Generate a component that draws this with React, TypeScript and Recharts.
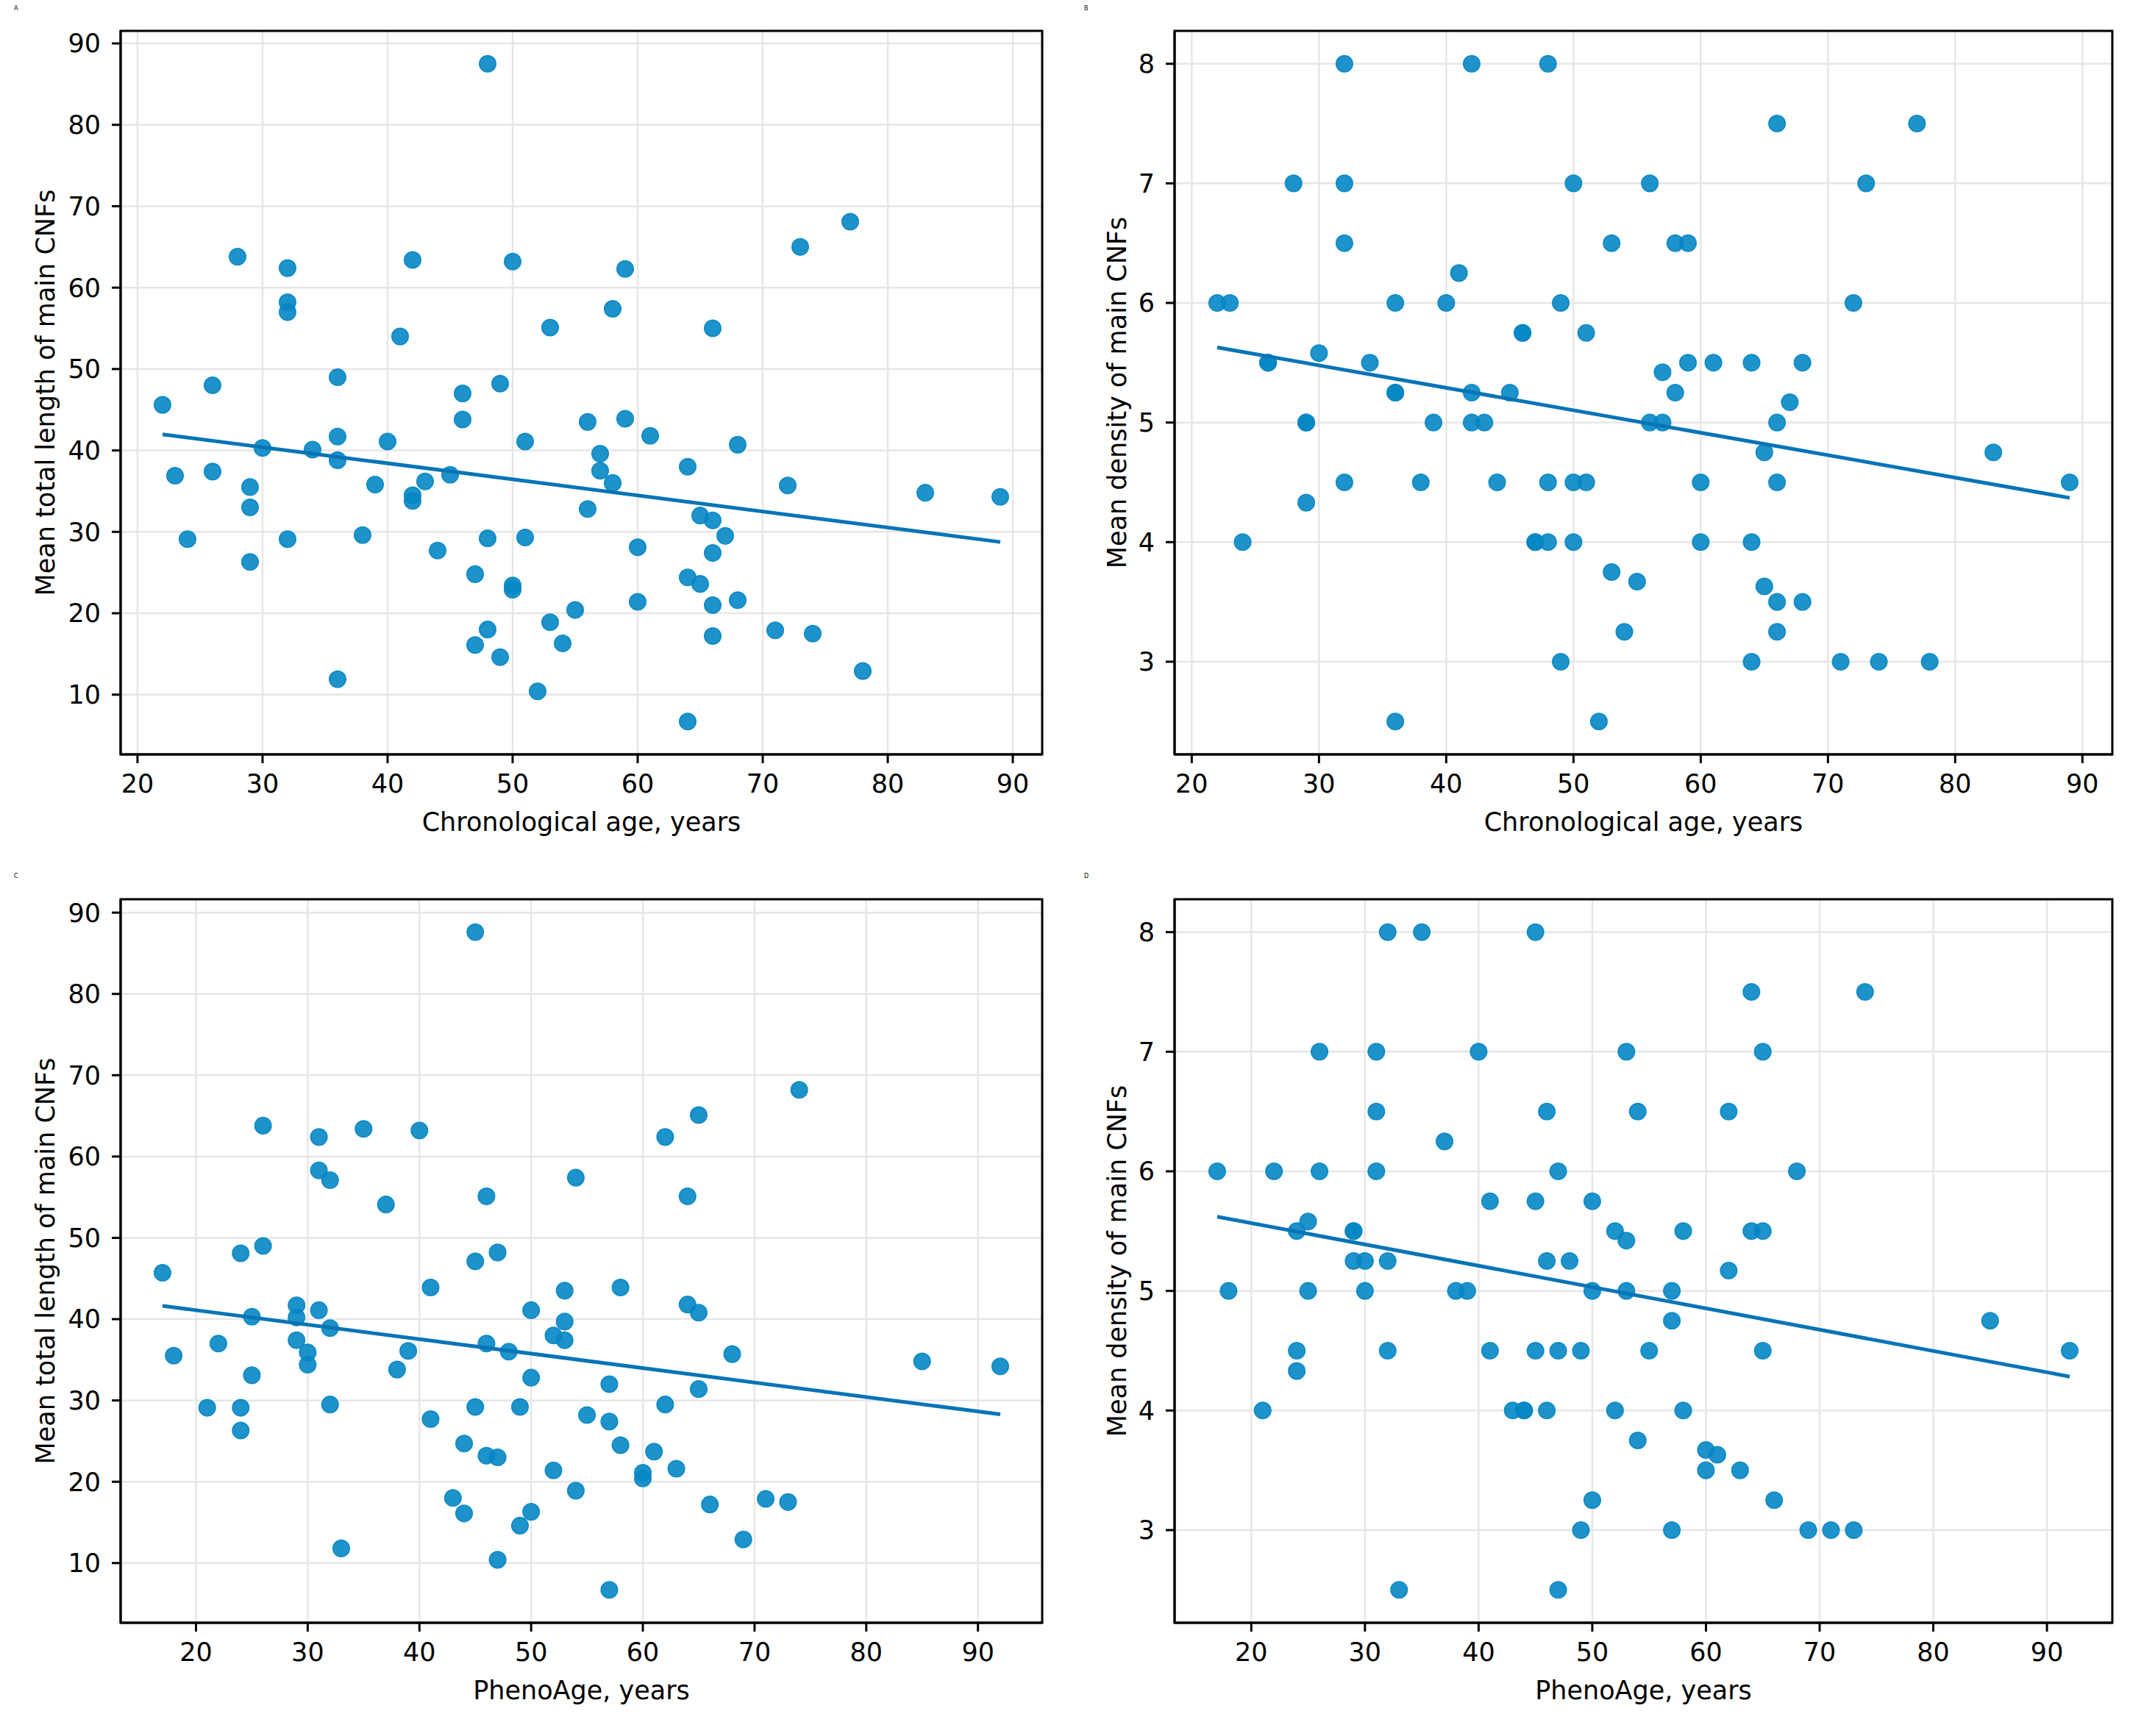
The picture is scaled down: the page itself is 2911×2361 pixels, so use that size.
import React from 'react';
import { ScatterChart, Scatter, XAxis, YAxis, CartesianGrid, Label, ReferenceArea } from 'recharts';

type Pt = [number, number];

// Panel A: chronological age vs mean total length of main CNFs
const chronoLength: Pt[] = [
  [22, 45.6], [23, 36.9], [24, 29.1], [26, 48.0], [26, 37.4], [28, 63.8], [29, 35.5], [29, 33.0], [29, 26.3], [30, 40.3],
  [32, 62.4], [32, 58.2], [32, 57.0], [32, 29.1], [34, 40.1], [36, 49.0], [36, 41.7], [36, 38.8], [36, 11.9], [38, 29.6],
  [39, 35.8], [40, 41.1], [41, 54.0], [42, 63.4], [42, 34.5], [42, 33.8], [43, 36.2], [44, 27.7], [45, 37.0], [46, 47.0],
  [46, 43.8], [47, 24.8], [47, 16.1], [48, 87.5], [48, 29.2], [48, 18.0], [49, 48.2], [49, 14.6], [50, 63.2], [50, 23.4],
  [50, 22.9], [51, 41.1], [51, 29.3], [52, 10.4], [53, 55.1], [53, 18.9], [54, 16.3], [55, 20.4], [56, 43.5], [56, 32.8],
  [57, 39.6], [57, 37.5], [58, 57.4], [58, 36.0], [59, 62.3], [59, 43.9], [60, 28.1], [60, 21.4], [61, 41.8], [64, 38.0],
  [64, 24.4], [64, 6.7], [65, 32.0], [65, 23.6], [66, 55.0], [66, 31.4], [66, 27.4], [66, 21.0], [66, 17.2], [67, 29.5],
  [68, 40.7], [68, 21.6], [71, 17.9], [72, 35.7], [73, 65.0], [74, 17.5], [77, 68.1], [78, 12.9], [83, 34.8], [89, 34.3],
];

// Panel B: chronological age vs mean density of main CNFs
const chronoDensity: Pt[] = [
  [22, 6.0], [23, 6.0], [24, 4.0], [26, 5.5], [26, 5.5], [28, 7.0], [29, 5.0], [29, 5.0], [29, 4.33], [30, 5.58],
  [32, 8.0], [32, 7.0], [32, 6.5], [32, 4.5], [34, 5.5], [36, 6.0], [36, 5.25], [36, 5.25], [36, 2.5], [38, 4.5],
  [39, 5.0], [40, 6.0], [41, 6.25], [42, 8.0], [42, 5.25], [42, 5.0], [43, 5.0], [44, 4.5], [45, 5.25], [46, 5.75],
  [46, 5.75], [47, 4.0], [47, 4.0], [48, 8.0], [48, 4.5], [48, 4.0], [49, 6.0], [49, 3.0], [50, 7.0], [50, 4.5],
  [50, 4.0], [51, 5.75], [51, 4.5], [52, 2.5], [53, 6.5], [53, 3.75], [54, 3.25], [55, 3.67], [56, 7.0], [56, 5.0],
  [57, 5.42], [57, 5.0], [58, 6.5], [58, 5.25], [59, 6.5], [59, 5.5], [60, 4.5], [60, 4.0], [61, 5.5], [64, 5.5],
  [64, 4.0], [64, 3.0], [65, 4.75], [65, 3.63], [66, 7.5], [66, 5.0], [66, 4.5], [66, 3.5], [66, 3.25], [67, 5.17],
  [68, 5.5], [68, 3.5], [71, 3.0], [72, 6.0], [73, 7.0], [74, 3.0], [77, 7.5], [78, 3.0], [83, 4.75], [89, 4.5],
];

// Panel C: PhenoAge vs mean total length of main CNFs
const phenoLength: Pt[] = [
  [17, 45.7], [18, 35.5], [21, 29.1], [22, 37.0], [24, 48.1], [24, 29.1], [24, 26.3], [25, 40.3], [25, 33.1], [26, 63.8],
  [26, 49.0], [29, 41.7], [29, 40.2], [29, 37.4], [30, 35.9], [30, 34.4], [31, 62.4], [31, 58.3], [31, 41.1], [32, 57.1],
  [32, 38.9], [32, 29.5], [33, 11.8], [35, 63.4], [37, 54.1], [38, 33.8], [39, 36.1], [40, 63.2], [41, 43.9], [41, 27.7],
  [43, 18.0], [44, 24.7], [44, 16.1], [45, 87.6], [45, 47.1], [45, 29.2], [46, 55.1], [46, 37.0], [46, 23.2], [47, 48.2],
  [47, 23.0], [47, 10.4], [48, 36.0], [49, 29.2], [49, 14.6], [50, 41.1], [50, 32.8], [50, 16.3], [52, 38.0], [52, 21.4],
  [53, 43.5], [53, 39.7], [53, 37.4], [54, 57.4], [54, 18.9], [55, 28.2], [57, 32.0], [57, 27.4], [57, 6.7], [58, 43.9],
  [58, 24.5], [60, 21.1], [60, 20.4], [61, 23.7], [62, 62.4], [62, 29.5], [63, 21.6], [64, 55.1], [64, 41.8], [65, 65.1],
  [65, 40.8], [65, 31.4], [66, 17.2], [68, 35.7], [69, 12.9], [71, 17.9], [73, 17.5], [74, 68.2], [85, 34.8], [92, 34.2],
];

// Panel D: PhenoAge vs mean density of main CNFs
const phenoDensity: Pt[] = [
  [17, 6.0], [18, 5.0], [21, 4.0], [22, 6.0], [24, 5.5], [24, 4.5], [24, 4.33], [25, 5.58], [25, 5.0], [26, 7.0],
  [26, 6.0], [29, 5.5], [29, 5.5], [29, 5.25], [30, 5.25], [30, 5.0], [31, 7.0], [31, 6.5], [31, 6.0], [32, 8.0],
  [32, 5.25], [32, 4.5], [33, 2.5], [35, 8.0], [37, 6.25], [38, 5.0], [39, 5.0], [40, 7.0], [41, 5.75], [41, 4.5],
  [43, 4.0], [44, 4.0], [44, 4.0], [45, 8.0], [45, 5.75], [45, 4.5], [46, 6.5], [46, 5.25], [46, 4.0], [47, 6.0],
  [47, 4.5], [47, 2.5], [48, 5.25], [49, 4.5], [49, 3.0], [50, 5.75], [50, 5.0], [50, 3.25], [52, 5.5], [52, 4.0],
  [53, 7.0], [53, 5.42], [53, 5.0], [54, 6.5], [54, 3.75], [55, 4.5], [57, 5.0], [57, 4.75], [57, 3.0], [58, 5.5],
  [58, 4.0], [60, 3.67], [60, 3.5], [61, 3.63], [62, 6.5], [62, 5.17], [63, 3.5], [64, 7.5], [64, 5.5], [65, 7.0],
  [65, 5.5], [65, 4.5], [66, 3.25], [68, 6.0], [69, 3.0], [71, 3.0], [73, 3.0], [74, 7.5], [85, 4.75], [92, 4.5],
];

const ageTicks = [20, 30, 40, 50, 60, 70, 80, 90];
const lengthTicks = [10, 20, 30, 40, 50, 60, 70, 80, 90];
const densityTicks = [3, 4, 5, 6, 7, 8];

const panelLetters = ['A', 'B', 'C', 'D'];
const xLabels = ['Chronological age, years', 'PhenoAge, years'];
const yLabels = ['Mean total length of main CNFs', 'Mean density of main CNFs'];

const FONT = '"DejaVu Sans", Verdana, sans-serif';
const POINT = '#0586c4';
const LINE = '#0774b6';
const GRID = '#e6e6e6';
const FS = 35;

function paddedDomain(vals: number[]): [number, number] {
  const lo = Math.min(...vals);
  const hi = Math.max(...vals);
  const pad = (hi - lo) * 0.05;
  return [lo - pad, hi + pad];
}

function fitLine(pts: Pt[]) {
  const n = pts.length;
  const mx = pts.reduce((s, p) => s + p[0], 0) / n;
  const my = pts.reduce((s, p) => s + p[1], 0) / n;
  let sxx = 0;
  let sxy = 0;
  pts.forEach(([x, y]) => {
    sxx += (x - mx) * (x - mx);
    sxy += (x - mx) * (y - my);
  });
  const slope = sxy / sxx;
  const icpt = my - slope * mx;
  const xs = pts.map((p) => p[0]);
  const x0 = Math.min(...xs);
  const x1 = Math.max(...xs);
  return [
    { x: x0, y: icpt + slope * x0 },
    { x: x1, y: icpt + slope * x1 },
  ];
}

const Dot = (props: any) => {
  const { cx, cy } = props;
  if (cx == null || cy == null) return <g />;
  return (
    <circle cx={cx} cy={cy} r={11.3} fill={POINT} fillOpacity={0.9} stroke={POINT} strokeOpacity={0.9} strokeWidth={1.5} />
  );
};

const NoShape = () => <g />;

type PanelProps = {
  left: number;
  top: number;
  width: number;
  height: number;
  pts: Pt[];
  yTicks: number[];
  xLabel: string;
  yLabel: string;
  yAxisWidth: number;
  marginRight: number;
  marginTop: number;
  yLabelX: number;
};

function Panel(p: PanelProps) {
  const data = p.pts.map(([x, y]) => ({ x, y }));
  const xDomain = paddedDomain(p.pts.map((d) => d[0]));
  const yDomain = paddedDomain(p.pts.map((d) => d[1]));
  const fit = fitLine(p.pts);
  const axisLine = { stroke: '#000', strokeWidth: 3 };
  const tickLine = { stroke: '#000', strokeWidth: 3 };
  const tick = { fontSize: FS, fill: '#000', fontFamily: FONT };
  return (
    <div style={{ position: 'absolute', left: p.left, top: p.top }}>
      <ScatterChart
        width={p.width}
        height={p.height}
        margin={{ top: p.marginTop, right: p.marginRight, bottom: 0, left: 0 }}
      >
        <CartesianGrid stroke={GRID} strokeWidth={2.5} />
        <XAxis
          type="number"
          dataKey="x"
          domain={xDomain}
          allowDataOverflow
          ticks={ageTicks}
          interval={0}
          height={154}
          tickSize={12}
          tickMargin={15}
          tick={tick}
          tickLine={tickLine}
          axisLine={axisLine}
        >
          <Label value={p.xLabel} position="insideBottom" offset={50} style={{ fontSize: FS, fill: '#000', fontFamily: FONT }} />
        </XAxis>
        <YAxis
          type="number"
          dataKey="y"
          domain={yDomain}
          allowDataOverflow
          ticks={p.yTicks}
          interval={0}
          width={p.yAxisWidth}
          tickSize={12}
          tickMargin={15}
          tick={tick}
          tickLine={tickLine}
          axisLine={axisLine}
        >
          <Label
            value={p.yLabel}
            angle={-90}
            position="insideLeft"
            offset={p.yLabelX}
            style={{ fontSize: FS, fill: '#000', fontFamily: FONT, textAnchor: 'middle' }}
          />
        </YAxis>
        <ReferenceArea
          x1={xDomain[0]}
          x2={xDomain[1]}
          y1={yDomain[0]}
          y2={yDomain[1]}
          fill="none"
          fillOpacity={0}
          stroke="#000"
          strokeWidth={3}
          ifOverflow="visible"
        />
        <Scatter data={data} shape={Dot} isAnimationActive={false} />
        <Scatter
          data={fit}
          shape={NoShape}
          line={{ stroke: LINE, strokeWidth: 5 }}
          lineType="joint"
          isAnimationActive={false}
        />
      </ScatterChart>
    </div>
  );
}

const letterPos = [
  { left: 19, top: 7 },
  { left: 1474, top: 7 },
  { left: 19, top: 1187 },
  { left: 1474, top: 1187 },
];

export default function App() {
  return (
    <div
      style={{
        position: 'absolute',
        left: 0,
        top: 0,
        width: 2911,
        height: 2361,
        background: '#fff',
        fontFamily: FONT,
        overflow: 'hidden',
      }}
    >
      <Panel left={0} top={0} width={1455} height={1180} pts={chronoLength} yTicks={lengthTicks}
        xLabel={xLabels[0]} yLabel={yLabels[0]} yAxisWidth={164} marginRight={38} marginTop={42} yLabelX={62} />
      <Panel left={1455} top={0} width={1456} height={1180} pts={chronoDensity} yTicks={densityTicks}
        xLabel={xLabels[0]} yLabel={yLabels[1]} yAxisWidth={142} marginRight={39} marginTop={42} yLabelX={64} />
      <Panel left={0} top={1180} width={1455} height={1181} pts={phenoLength} yTicks={lengthTicks}
        xLabel={xLabels[1]} yLabel={yLabels[0]} yAxisWidth={164} marginRight={38} marginTop={43} yLabelX={62} />
      <Panel left={1455} top={1180} width={1456} height={1181} pts={phenoDensity} yTicks={densityTicks}
        xLabel={xLabels[1]} yLabel={yLabels[1]} yAxisWidth={142} marginRight={39} marginTop={43} yLabelX={64} />
      {panelLetters.map((l, i) => (
        <div
          key={l}
          style={{ position: 'absolute', left: letterPos[i].left, top: letterPos[i].top, fontSize: 8, lineHeight: '10px', color: '#000' }}
        >
          {l}
        </div>
      ))}
    </div>
  );
}
